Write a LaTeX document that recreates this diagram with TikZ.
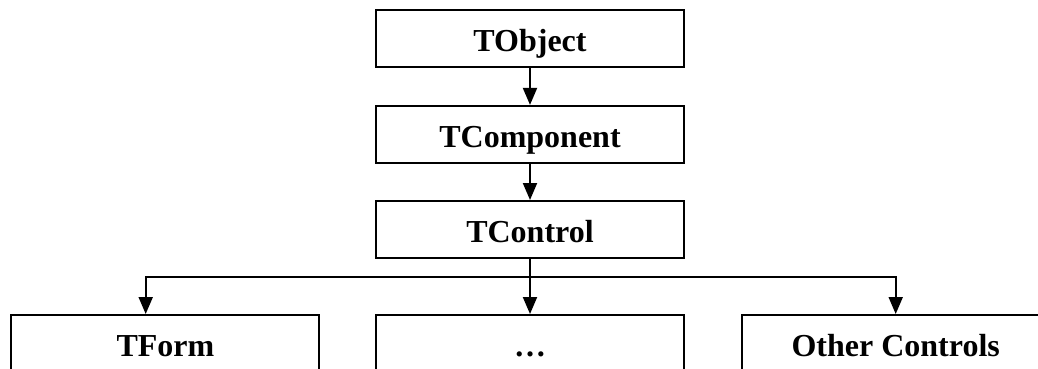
\documentclass[tikz,border=0pt]{standalone}
\usepackage{fontspec}
\setmainfont{Liberation Serif}
\usetikzlibrary{arrows.meta}

\begin{document}
\begin{tikzpicture}[
  x=1pt,y=-1pt,
  class_box/.style={
    draw,line width=2pt,minimum width=308pt,minimum height=57pt,
    inner sep=0pt,text height=28pt,text depth=2.2pt,
    font=\fontsize{32}{36}\selectfont\bfseries
  },
  inherit/.style={
    line width=2pt,-{Triangle[width=14pt,length=17pt]}
  }]
  %
  \useasboundingbox (0,0) rectangle (1038,369);
  \clip (0,0) rectangle (1038,369);
  \node[class_box] (tobject) at (530,38.8) {TObject};
  \node[class_box] (tcomponent) at (530,134.4) {TComponent};
  \node[class_box] (tcontrol) at (530,229.5) {TControl};
  \draw[inherit] (tobject) -- (tcomponent);
  \draw[inherit] (tcomponent) -- (tcontrol);
  %
  \node[class_box] (tform) at (165.4,343.5) {TForm};
  \node[class_box] (dots) at (530,343.5) {…};
  \node[class_box] (other) at (895.7,343.5) {Other Controls};
  \coordinate (split) at (530,277);
  \draw[line width=2pt] (tcontrol) -- (split);
  \draw[inherit] (split) -| ([xshift=-19.7pt]tform.north);
  \draw[inherit] (split) -- (dots);
  \draw[inherit] (split) -| (other.north);
\end{tikzpicture}
\end{document}
